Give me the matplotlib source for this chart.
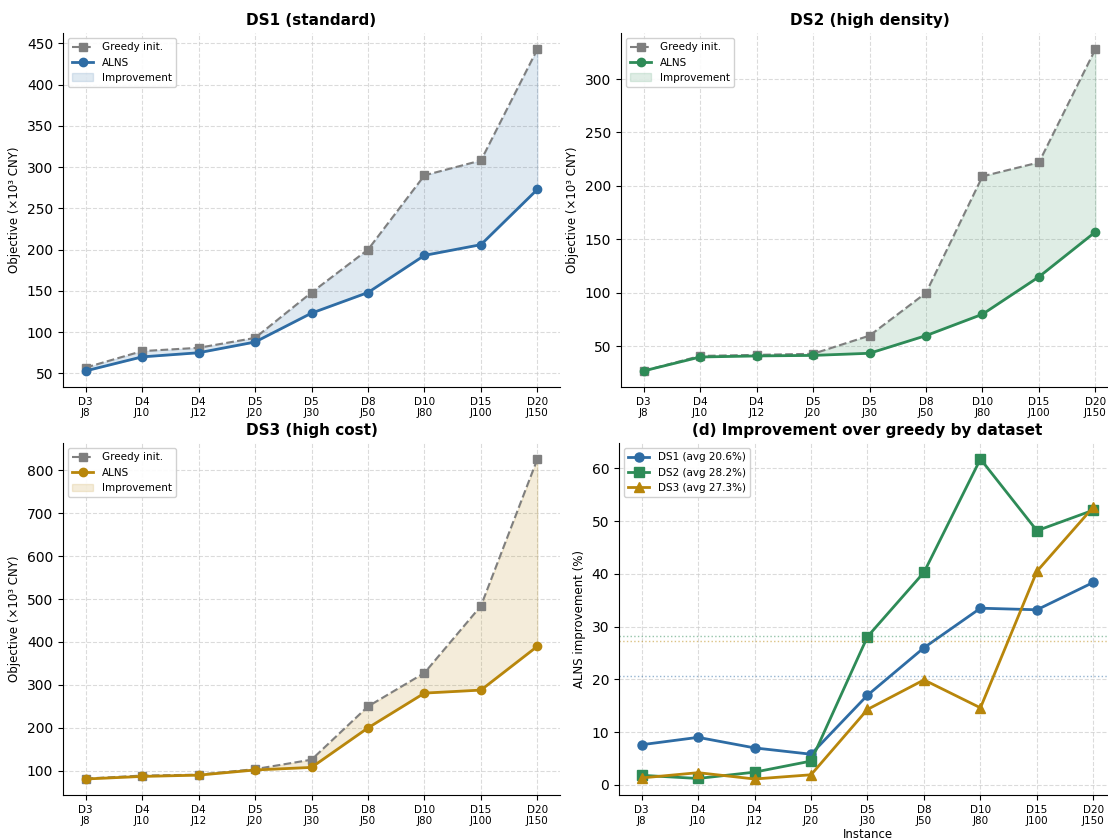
import matplotlib
matplotlib.use("Agg")
import matplotlib.pyplot as plt
import numpy as np

# Instances (depots / jobs)
instances = ["D3\nJ8", "D4\nJ10", "D4\nJ12", "D5\nJ20", "D5\nJ30",
             "D8\nJ50", "D10\nJ80", "D15\nJ100", "D20\nJ150"]

# Objective values (x10^3 CNY)
ds1_greedy = [57, 77, 81, 93, 148, 200, 290, 308, 443]
ds1_alns = [53, 70, 75, 88, 123, 148, 193, 206, 273]

ds2_greedy = [27, 41, 42, 43, 60, 100, 209, 222, 328]
ds2_alns = [27, 40, 41, 41.5, 43.5, 60, 80, 115, 157]

ds3_greedy = [82, 89, 91, 104, 126, 250, 328, 484, 826]
ds3_alns = [81, 87, 90, 102, 108, 200, 281, 288, 390]

# ALNS improvement over greedy (%)
ds1_impr = [7.6, 9.0, 7.0, 5.8, 17.0, 26.0, 33.5, 33.2, 38.4]
ds2_impr = [1.8, 1.2, 2.4, 4.5, 28.1, 40.3, 61.8, 48.2, 52.1]
ds3_impr = [1.3, 2.3, 1.1, 1.9, 14.3, 19.9, 14.6, 40.5, 52.7]
avg_impr = [20.6, 28.2, 27.3]

dataset_names = ["DS1", "DS2", "DS3"]
titles = ["DS1 (standard)", "DS2 (high density)", "DS3 (high cost)"]
colors = ["#2e6ca4", "#2e8b57", "#b8860b"]
greedy_color = "#7f7f7f"

plt.rcParams["font.family"] = "DejaVu Sans"

fig = plt.figure(figsize=(11.08, 8.39), dpi=100)
W, H = 1108, 839


def px_axes(left, top, right, bottom):
    return fig.add_axes([left / W, 1 - bottom / H, (right - left) / W, (bottom - top) / H])


ax1 = px_axes(63, 33, 560, 387)
ax2 = px_axes(621, 33, 1118, 387)
ax3 = px_axes(63, 443, 560, 795)
ax4 = px_axes(619, 443, 1116, 795)

x = np.arange(len(instances))


def style(ax):
    ax.spines["top"].set_visible(False)
    ax.spines["right"].set_visible(False)
    ax.grid(True, linestyle="--", color="#cccccc", alpha=0.7, linewidth=0.8)
    ax.set_axisbelow(True)
    ax.set_xticks(x)
    ax.set_xticklabels(instances, fontsize=7.5)
    ax.tick_params(axis="y", labelsize=10)


for ax, greedy, alns, title, col in zip(
        [ax1, ax2, ax3],
        [ds1_greedy, ds2_greedy, ds3_greedy],
        [ds1_alns, ds2_alns, ds3_alns],
        titles, colors):
    ax.plot(x, greedy, linestyle="--", marker="s", color=greedy_color,
            linewidth=1.5, markersize=6, label="Greedy init.")
    ax.plot(x, alns, linestyle="-", marker="o", color=col,
            linewidth=2, markersize=6, label="ALNS")
    ax.fill_between(x, alns, greedy, color=col, alpha=0.15, label="Improvement")
    ax.set_title(title, fontsize=11, fontweight="bold")
    ax.set_ylabel("Objective (\u00d710\u00b3 CNY)", fontsize=8.5)
    style(ax)
    ax.legend(loc="upper left", fontsize=7.5, framealpha=0.9)

markers = ["o", "s", "^"]
for impr, name, avg, col, mk in zip([ds1_impr, ds2_impr, ds3_impr],
                                    dataset_names, avg_impr, colors, markers):
    ax4.plot(x, impr, marker=mk, color=col, linewidth=2, markersize=6.5,
             label=f"{name} (avg {avg:.1f}%)")
    ax4.axhline(avg, color=col, linestyle=":", linewidth=1, alpha=0.5)

ax4.set_title("(d) Improvement over greedy by dataset", fontsize=11, fontweight="bold")
ax4.set_ylabel("ALNS improvement (%)", fontsize=8.5)
ax4.set_xlabel("Instance", fontsize=8.5, labelpad=1)
style(ax4)
ax4.legend(loc="upper left", fontsize=7.5, framealpha=0.9)

fig.savefig("out.png", dpi=100)
